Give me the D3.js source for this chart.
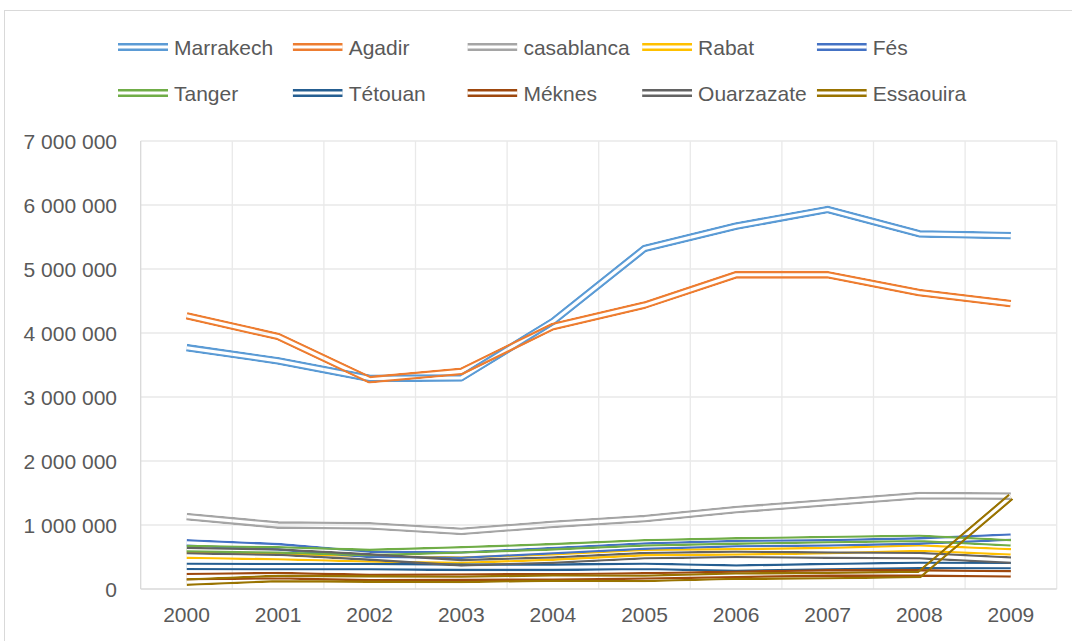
<!DOCTYPE html>
<html>
<head>
<meta charset="utf-8">
<script src="https://cdn.jsdelivr.net/npm/d3@7"></script>
<style>
  body { margin: 0; background: #fff; }
  text { font-family: "Liberation Sans", Arial, sans-serif; fill: #595959; }
</style>
</head>
<body>
<script>
var width = 1072,
    height = 641;

// data (visitors per city, 2000-2009)
var years = ["2000", "2001", "2002", "2003", "2004", "2005", "2006", "2007", "2008", "2009"];
var cities = ["Marrakech", "Agadir", "casablanca", "Rabat", "Fés", "Tanger", "Tétouan", "Méknes", "Ouarzazate", "Essaouira"];
var colors = ["#5B9BD5", "#ED7D31", "#A5A5A5", "#FFC000", "#4472C4", "#70AD47", "#255E91", "#9E480E", "#636363", "#997300"];

var marrakech  = [3770000, 3565000, 3290000, 3300000, 4180000, 5320000, 5670000, 5930000, 5550000, 5520000];
var agadir     = [4270000, 3945000, 3270000, 3400000, 4100000, 4435000, 4910000, 4910000, 4630000, 4460000];
var casablanca = [1130000, 1000000, 985000, 900000, 1010000, 1100000, 1240000, 1350000, 1460000, 1450000];
var rabat      = [530000, 505000, 470000, 450000, 500000, 570000, 580000, 600000, 640000, 580000];
var fes        = [720000, 660000, 540000, 530000, 600000, 670000, 710000, 720000, 750000, 810000];
var tanger     = [630000, 610000, 570000, 610000, 660000, 720000, 750000, 770000, 790000, 720000];
var tetouan    = [354000, 350000, 350000, 340000, 340000, 355000, 325000, 350000, 370000, 365000];
var meknes     = [193000, 210000, 180000, 185000, 190000, 205000, 230000, 250000, 250000, 235000];
var ouarzazate = [600000, 575000, 500000, 410000, 450000, 520000, 540000, 530000, 520000, 450000];
var essaouira  = [107000, 164000, 156000, 150000, 170000, 165000, 200000, 210000, 227000, 1440000];

var yTicks = [0, 1000000, 2000000, 3000000, 4000000, 5000000, 6000000, 7000000];

var seriesValues = [marrakech, agadir, casablanca, rabat, fes, tanger, tetouan, meknes, ouarzazate, essaouira];
var series = cities.map(function(c, i) {
  return { name: c, color: colors[i], values: seriesValues[i] };
});

var svg = d3.select("body").append("svg")
    .attr("width", width)
    .attr("height", height);

// chart frame
svg.append("rect")
    .attr("x", 4.5).attr("y", 10.5)
    .attr("width", 1100).attr("height", 700)
    .attr("fill", "none")
    .attr("stroke", "#d9d9d9");

var plot = { left: 140.7, right: 1056.7, top: 141, bottom: 589 };

var x = d3.scaleBand().domain(years).range([plot.left, plot.right]).paddingInner(0).paddingOuter(0);
var y = d3.scaleLinear().domain([0, 7000000]).range([plot.bottom, plot.top]);

var loc = d3.formatLocale({ decimal: ",", thousands: " ", grouping: [3], currency: ["", ""] });
var fmt = loc.format(",");

// horizontal grid
svg.append("g").selectAll("line")
    .data(yTicks.slice(1))
    .enter().append("line")
    .attr("x1", plot.left).attr("x2", plot.right)
    .attr("y1", function(d) { return y(d); })
    .attr("y2", function(d) { return y(d); })
    .attr("stroke", "#e9e9e9").attr("stroke-width", 1.3);

// vertical grid at category edges
var edges = years.map(function(d) { return x(d); }).concat([plot.right]);
svg.append("g").selectAll("line")
    .data(edges.slice(1))
    .enter().append("line")
    .attr("x1", function(d) { return d; }).attr("x2", function(d) { return d; })
    .attr("y1", plot.top).attr("y2", plot.bottom)
    .attr("stroke", "#e9e9e9").attr("stroke-width", 1.3);

// axes lines
svg.append("line")
    .attr("x1", plot.left).attr("x2", plot.left)
    .attr("y1", plot.top).attr("y2", plot.bottom)
    .attr("stroke", "#d9d9d9").attr("stroke-width", 1.3);
svg.append("line")
    .attr("x1", plot.left).attr("x2", plot.right)
    .attr("y1", plot.bottom).attr("y2", plot.bottom)
    .attr("stroke", "#d9d9d9").attr("stroke-width", 1.3);

// y labels
svg.append("g").selectAll("text")
    .data(yTicks)
    .enter().append("text")
    .attr("x", 117)
    .attr("y", function(d) { return y(d); })
    .attr("dy", "0.36em")
    .attr("text-anchor", "end")
    .style("font-size", "21px")
    .text(function(d) { return fmt(d); });

// x labels
svg.append("g").selectAll("text")
    .data(years)
    .enter().append("text")
    .attr("x", function(d) { return x(d) + x.bandwidth() / 2; })
    .attr("y", 614)
    .attr("dy", "0.36em")
    .attr("text-anchor", "middle")
    .style("font-size", "21px")
    .text(function(d) { return d; });

// double lines: thick stroke with a transparent core cut out by a mask
var line = d3.line()
    .x(function(d, i) { return x(years[i]) + x.bandwidth() / 2; })
    .y(function(d) { return y(d); });

var defs = svg.append("defs");

function doubleLine(parent, id, d, color) {
  var m = defs.append("mask")
      .attr("id", id)
      .attr("maskUnits", "userSpaceOnUse")
      .attr("x", 0).attr("y", 0).attr("width", width).attr("height", height);
  m.append("path").attr("d", d).attr("fill", "none")
      .attr("stroke", "#fff").attr("stroke-width", 7.8).attr("stroke-linejoin", "round");
  m.append("path").attr("d", d).attr("fill", "none")
      .attr("stroke", "#000").attr("stroke-width", 3.2).attr("stroke-linejoin", "round");
  parent.append("path")
      .attr("d", d)
      .attr("fill", "none")
      .attr("stroke", color)
      .attr("stroke-width", 7.8)
      .attr("stroke-linejoin", "round")
      .attr("mask", "url(#" + id + ")");
}

var lines = svg.append("g");
series.forEach(function(s, i) {
  doubleLine(lines, "m" + i, line(s.values), s.color);
});

// legend, two rows of five
var legend = svg.append("g");
series.forEach(function(s, i) {
  var col = i % 5, row = Math.floor(i / 5);
  var lx = 118 + col * 174.7, ly = 47 + row * 46;
  doubleLine(legend, "lg" + i, "M" + lx + "," + ly + "H" + (lx + 50), s.color);
  legend.append("text")
      .attr("x", lx + 56)
      .attr("y", ly)
      .attr("dy", "0.36em")
      .style("font-size", "21px")
      .text(s.name);
});
</script>
</body>
</html>
